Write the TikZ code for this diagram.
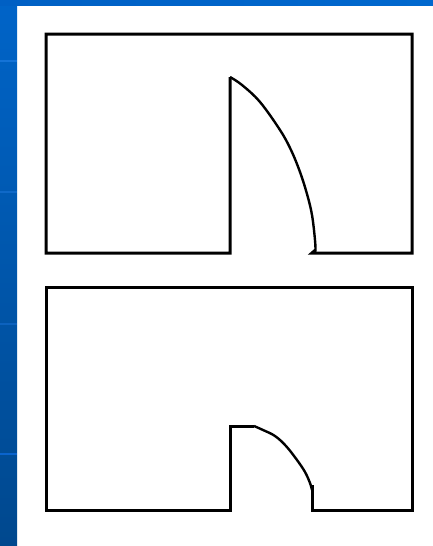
\documentclass[tikz,border=0pt]{standalone}
\definecolor{bartop}{RGB}{0,100,200}
\definecolor{barbot}{RGB}{0,72,142}
\definecolor{topL}{RGB}{0,96,196}
\definecolor{topR}{RGB}{0,104,206}
\definecolor{glintA}{RGB}{20,115,215}
\definecolor{glintB}{RGB}{15,105,200}
\definecolor{glintC}{RGB}{12,98,190}
\definecolor{glintD}{RGB}{10,100,205}
\begin{document}
\begin{tikzpicture}[x=1pt,y=-1pt,
  outline/.style={line width=3pt,line join=miter,black},
  curve/.style={line width=2.4pt,black},
  glint/.style={line width=2pt}]
\useasboundingbox (0,0) rectangle (433,546);
\fill[white] (0,0) rectangle (433,546);
% blue frame
\shade[top color=bartop,bottom color=barbot] (0,0) rectangle (17,546);
\shade[left color=topL,right color=topR] (0,0) rectangle (433,5);
\draw[glint,glintA] (0,61) -- (17,61);
\draw[glint,glintB] (0,192) -- (17,192);
\draw[glint,glintC] (0,324) -- (17,324);
\draw[glint,glintD] (0,454) -- (17,454);
% top shape
\draw[outline] (230,77) -- (230,253) -- (46,253) -- (46,34) -- (412,34) -- (412,253) -- (312,253) -- (315.5,250);
\draw[curve] plot[smooth,tension=0.6] coordinates {(230,77) (242,85) (260,102) (280,130) (291,150) (300,172) (307,194) (312,215) (315,240) (315.5,251)};
% bottom shape
\draw[outline] (254,426) -- (230,426) -- (230,510) -- (46,510) -- (46,287) -- (412,287) -- (412,510) -- (312,510) -- (312,485);
\draw[curve] plot[smooth,tension=0.6] coordinates {(254,426) (263,430) (275,436) (286,446) (297,460) (305,472) (310,483) (312,490)};
\end{tikzpicture}
\end{document}
